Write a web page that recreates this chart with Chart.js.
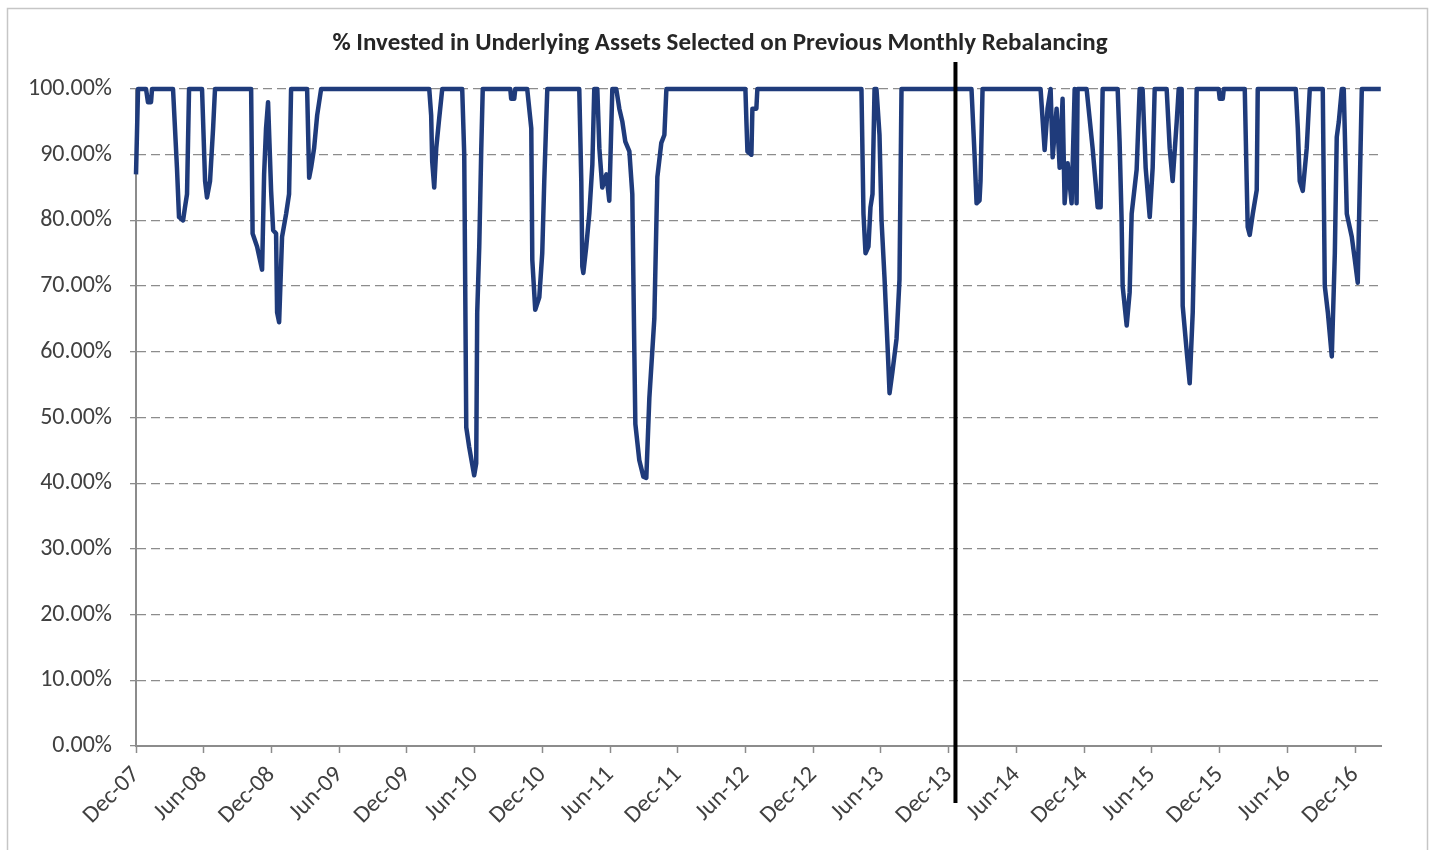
<!DOCTYPE html>
<html>
<head>
<meta charset="utf-8">
<title>% Invested in Underlying Assets</title>
<script src="https://cdn.jsdelivr.net/npm/chart.js@4.4.1/dist/chart.umd.min.js"></script>
<style>
  html, body { margin: 0; padding: 0; background: #fff; }
  #wrap { width: 1435px; height: 850px; }
</style>
</head>
<body>
<div id="wrap"><canvas id="investedChart" width="1435" height="850"></canvas></div>
<script>
// x positions: months since Dec-07
const monthsSinceDec07 = [
    0.0, 0.18, 0.89, 1.06, 1.33, 1.42,
    3.28, 3.63, 3.81, 4.17, 4.34, 4.52, 4.70,
    5.85, 6.12, 6.29, 6.56, 6.83, 7.00,
    10.20, 10.33, 10.73, 11.17, 11.35, 11.52, 11.70, 11.97, 12.15, 12.41, 12.50, 12.68, 12.94, 13.30, 13.56, 13.74,
    15.16, 15.34, 15.51, 15.78, 16.05, 16.40,
    25.98, 26.15, 26.24, 26.42, 26.60, 26.86, 27.13,
    28.90, 29.08, 29.26, 29.52, 29.96, 30.14, 30.23, 30.41, 30.59, 30.72,
    33.16, 33.24, 33.51, 33.60,
    34.66, 35.02, 35.11, 35.37, 35.73, 35.99, 36.17, 36.35, 36.44,
    39.27, 39.45, 39.54, 39.63, 39.89, 40.16, 40.43, 40.60,
    40.87, 41.05, 41.31, 41.67, 41.93, 42.20,
    42.55, 42.82, 43.09, 43.35, 43.71, 43.97, 44.15, 44.24, 44.59, 44.95, 45.21, 45.48, 45.92, 46.19, 46.54, 46.81, 46.99,
    53.99, 54.08, 54.17, 54.52, 54.61, 54.96, 55.05,
    64.27, 64.45, 64.63, 64.89, 65.07, 65.25, 65.43, 65.60, 65.87, 66.05, 66.31, 66.58, 66.76, 67.02, 67.38, 67.64, 67.82,
    74.02, 74.29, 74.47, 74.73, 74.82, 75.00,
    80.14, 80.50, 80.76, 81.03, 81.21, 81.56, 81.83, 82.09, 82.27, 82.54, 82.89, 83.16, 83.33, 83.42,
    84.22, 84.75, 85.20, 85.46, 85.64,
    86.97, 87.14, 87.32, 87.41, 87.77, 88.03, 88.21, 88.65, 88.92,
    89.18, 89.45, 89.81, 90.07, 90.25,
    91.31, 91.58, 91.84, 92.20, 92.38,
    92.64, 92.73, 93.09, 93.35, 93.62, 93.79, 93.97,
    95.92, 96.01, 96.28, 96.37,
    98.23, 98.40, 98.49, 98.67, 98.94, 99.29, 99.38,
    102.75, 102.93, 103.10, 103.37, 103.72, 103.99,
    105.14, 105.32, 105.59, 105.94, 106.21, 106.38, 106.56, 106.83,
    107.00, 107.27, 107.71, 107.98, 108.24, 108.60,
    110.28
];

// % invested at each of those points
const investedPct = [
    87, 100, 100, 98, 98, 100,
    100, 88, 80.5, 80, 82, 84, 100,
    100, 86, 83.5, 86, 94, 100,
    100, 78, 76, 72.5, 87, 94, 98, 84.5, 78.5, 78, 66, 64.5, 77.5, 81, 84, 100,
    100, 86.5, 88, 91, 96, 100,
    100, 96, 89, 85, 91, 95.5, 100,
    100, 90, 48.5, 45.5, 41.2, 43, 66, 76, 91, 100,
    100, 98.5, 98.5, 100,
    100, 94, 74, 66.4, 68.3, 75, 86, 95.5, 100,
    100, 86, 73, 72, 76, 81, 88.5, 100,
    100, 91, 85, 87, 83, 100,
    100, 97, 95, 92, 90.5, 84, 60, 49, 43.5, 41, 40.8, 53, 65, 86.6, 91.8, 93, 100,
    100, 95, 90.5, 90, 97, 97, 100,
    100, 81, 75, 76, 82, 84, 100, 100, 93, 80, 71.4, 61, 53.7, 57, 62, 71, 100,
    100, 90, 82.6, 83, 86, 100,
    100, 90.7, 97, 100, 89.6, 97, 88, 98.5, 82.6, 88.7, 82.6, 100, 82.6, 100,
    100, 91, 82, 82, 100,
    100, 92, 80, 70, 64, 69, 81, 87.7, 100,
    100, 88, 80.5, 88, 100,
    100, 91, 86, 95, 100,
    100, 67, 60, 55.2, 66, 79.6, 100,
    100, 98.5, 98.5, 100,
    100, 86, 79, 77.8, 81, 84.6, 100,
    100, 94, 86, 84.5, 91, 100,
    100, 70, 66, 59.3, 75, 92.7, 95, 100,
    100, 81, 77.5, 74, 70.5, 100,
    100
];

const xTickLabels = ['Dec-07', 'Jun-08', 'Dec-08', 'Jun-09', 'Dec-09', 'Jun-10', 'Dec-10', 'Jun-11', 'Dec-11',
    'Jun-12', 'Dec-12', 'Jun-13', 'Dec-13', 'Jun-14', 'Dec-14', 'Jun-15', 'Dec-15', 'Jun-16', 'Dec-16'];
const yTickValues = [0, 10, 20, 30, 40, 50, 60, 70, 80, 90, 100];

const chartTitle = '% Invested in Underlying Assets Selected on Previous Monthly Rebalancing';

// split between the two periods (just after Dec-13)
const splitMonth = 72.6;

const FONT = 'Carlito, Lato, "Open Sans", sans-serif';

// frame, title and the black split line
const frameAndSplit = {
    id: 'frameAndSplit',
    beforeDraw(chart) {
        const ctx = chart.ctx;
        ctx.save();
        ctx.fillStyle = '#fff';
        ctx.fillRect(0, 0, chart.width, chart.height);
        ctx.strokeStyle = '#c6c6c6';
        ctx.lineWidth = 1.5;
        ctx.strokeRect(7.5, 8.5, 1420, 900);
        ctx.fillStyle = '#262626';
        ctx.font = 'bold 25px ' + FONT;
        ctx.textAlign = 'center';
        ctx.textBaseline = 'middle';
        ctx.fillText(chartTitle, 720, 44);
        ctx.restore();
    },
    afterDraw(chart) {
        const {ctx, chartArea, scales} = chart;
        const x = scales.x.getPixelForValue(splitMonth);
        ctx.save();
        ctx.strokeStyle = '#000';
        ctx.lineWidth = 4;
        ctx.beginPath();
        ctx.moveTo(x, chartArea.top - 27);
        ctx.lineTo(x, chartArea.bottom + 57);
        ctx.stroke();
        ctx.restore();
    }
};

const ctx = document.getElementById('investedChart').getContext('2d');

new Chart(ctx, {
    type: 'line',
    data: {
        datasets: [{
            label: '% Invested',
            data: monthsSinceDec07.map((m, i) => ({x: m, y: investedPct[i]})),
            borderColor: '#1f3b7b',
            borderWidth: 4.5,
            pointRadius: 0,
            tension: 0,
            borderJoinStyle: 'round',
            clip: 6
        }]
    },
    options: {
        responsive: false,
        animation: false,
        layout: {padding: {left: 0, right: 54, top: 89, bottom: 0}},
        plugins: {
            legend: {display: false},
            tooltip: {enabled: false},
            title: {display: false}
        },
        scales: {
            x: {
                type: 'linear',
                min: 0,
                max: 110.3,
                afterBuildTicks: s => { s.ticks = xTickLabels.map((_, i) => ({value: i * 6})); },
                afterFit: s => { s.height = 104; },
                ticks: {
                    callback: v => xTickLabels[Math.round(v / 6)],
                    minRotation: 45,
                    maxRotation: 45,
                    padding: 8,
                    color: '#404040',
                    font: {family: FONT, size: 24}
                },
                grid: {
                    drawOnChartArea: false,
                    drawTicks: true,
                    tickLength: 7,
                    tickColor: '#8c8c8c',
                    tickWidth: 1.5
                },
                border: {color: '#8c8c8c', width: 2}
            },
            y: {
                min: 0,
                max: 100,
                afterBuildTicks: s => { s.ticks = yTickValues.map(v => ({value: v})); },
                afterFit: s => { s.width = 136; },
                ticks: {
                    callback: v => v.toFixed(2) + '%',
                    padding: 18,
                    color: '#404040',
                    font: {family: FONT, size: 24}
                },
                grid: {
                    color: '#8c8c8c',
                    lineWidth: 1.3,
                    tickLength: 6,
                    tickColor: '#8c8c8c'
                },
                border: {color: '#8c8c8c', width: 2, dash: [9, 5]}
            }
        }
    },
    plugins: [frameAndSplit]
});
</script>
</body>
</html>
